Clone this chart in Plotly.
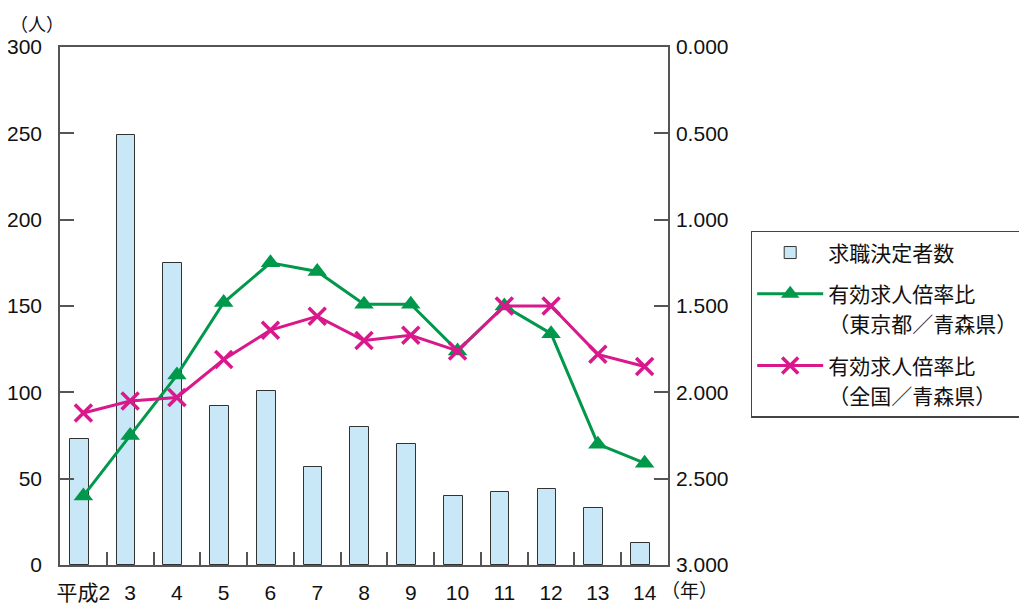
import plotly.graph_objects as go

# 年（平成）
years = ["平成2", "3", "4", "5", "6", "7", "8", "9", "10", "11", "12", "13", "14"]
# 求職決定者数（人）
placements = [73, 249, 175, 92, 101, 57, 80, 70, 40, 42, 44, 33, 13]
# 有効求人倍率比（東京都／青森県）
ratio_tokyo = [2.60, 2.25, 1.90, 1.48, 1.25, 1.30, 1.49, 1.49, 1.76, 1.50, 1.66, 2.30, 2.41]
# 有効求人倍率比（全国／青森県）
ratio_nation = [2.12, 2.05, 2.03, 1.81, 1.64, 1.56, 1.70, 1.67, 1.76, 1.50, 1.50, 1.78, 1.85]

GREEN = "#00984a"
MAGENTA = "#d9188b"
AXIS = "#555555"
FONT = "Liberation Sans, Arial, Noto Sans CJK JP"
JP = "Noto Sans CJK JP"

fig = go.Figure()

fig.add_trace(go.Bar(
    x=years, y=placements, name="求職決定者数",
    marker=dict(color="#c8e8f8", line=dict(color="#333333", width=1)),
    width=0.4, offset=-0.29,
    legendgroup="g1",
))

fig.add_trace(go.Scatter(
    x=years, y=ratio_tokyo, yaxis="y2", mode="lines+markers",
    name="有効求人倍率比",
    line=dict(color=GREEN, width=3),
    marker=dict(symbol="triangle-up", size=17, color=GREEN),
    legendgroup="g2",
))
# 凡例の2行目（ダミー）
fig.add_trace(go.Scatter(
    x=[None], y=[None], yaxis="y2", mode="none",
    name="（東京都／青森県）",
    legendgroup="g2", hoverinfo="skip",
))

fig.add_trace(go.Scatter(
    x=years, y=ratio_nation, yaxis="y2", mode="lines+markers",
    name="有効求人倍率比",
    line=dict(color=MAGENTA, width=3),
    marker=dict(symbol="x-thin", size=17, line=dict(color=MAGENTA, width=3.5), color=MAGENTA),
    legendgroup="g3",
))
fig.add_trace(go.Scatter(
    x=[None], y=[None], yaxis="y2", mode="none",
    name="（全国／青森県）",
    legendgroup="g3", hoverinfo="skip",
))

# ページ本体の余白(8px)を見込んだサイズ
fig.update_layout(
    width=1019, height=595,
    margin=dict(l=52, r=359, t=39, b=38, autoexpand=False),
    paper_bgcolor="white", plot_bgcolor="white",
    font=dict(family=FONT, size=21, color="#111111"),
    showlegend=True,
    bargap=0,
    xaxis=dict(
        type="category", automargin=False, tickangle=0,
        range=[-0.5, len(years) - 0.5],
        showline=True, linecolor=AXIS, linewidth=1.5, mirror=True,
        ticks="inside", ticklen=13, tickcolor=AXIS, tickwidth=1.5,
        tickson="boundaries", ticklabelstandoff=8,
        showgrid=False, zeroline=False,
    ),
    yaxis=dict(
        range=[0, 300], dtick=50, automargin=False,
        showline=True, linecolor=AXIS, linewidth=1.5,
        ticks="inside", ticklen=14, tickcolor=AXIS, tickwidth=1.5,
        ticklabelstandoff=12,
        showgrid=False, zeroline=False,
    ),
    yaxis2=dict(
        overlaying="y", side="right", automargin=False,
        range=[3, 0], dtick=0.5, tickformat=".3f",
        showline=True, linecolor=AXIS, linewidth=1.5,
        ticks="inside", ticklen=14, tickcolor=AXIS, tickwidth=1.5,
        ticklabelstandoff=2,
        showgrid=False, zeroline=False,
    ),
    legend=dict(
        x=1.136, y=0.645, xanchor="left", yanchor="top",
        bordercolor="#444444", borderwidth=1.5, bgcolor="white",
        font=dict(family=JP, size=21, color="#111111"),
        itemwidth=66, tracegroupgap=11,
        traceorder="grouped",
    ),
    annotations=[
        dict(text="（人）", xref="paper", yref="paper", x=-0.0855, y=1.046,
             xanchor="left", yanchor="middle", showarrow=False,
             font=dict(family=JP, size=18)),
        dict(text="（年）", xref="paper", yref="paper", x=0.985, y=-0.048,
             xanchor="left", yanchor="middle", showarrow=False,
             font=dict(family=JP, size=19)),
    ],
)

fig.write_html("out.html")
